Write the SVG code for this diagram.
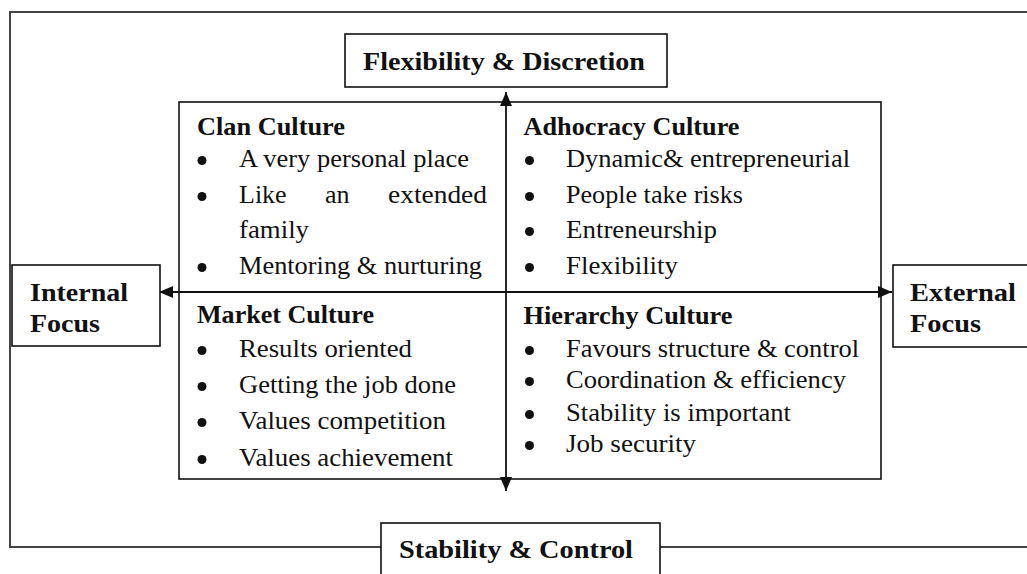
<svg xmlns="http://www.w3.org/2000/svg" width="1027" height="574" viewBox="0 0 1027 574">
  <style>
    text { font-family: "Liberation Serif", "Times New Roman", serif; fill: #111; }
    .h { font-size: 26px; font-weight: bold; }
    .t { font-size: 26px; }
    .frame { fill: none; stroke: #444; stroke-width: 2; }
    .box { fill: #fff; stroke: #111; stroke-width: 1.6; }
    .axis { fill: none; stroke: #111; stroke-width: 1.8; }
    .dot { fill: #111; }
  </style>
  <defs>
    <marker id="arrow" viewBox="0 0 14 12" refX="14" refY="6" markerWidth="14" markerHeight="12" markerUnits="userSpaceOnUse" orient="auto">
      <path d="M0,0 L14,6 L0,12 Z" fill="#111"/>
    </marker>
  </defs>

  <rect width="1027" height="574" fill="#fff"/>

  <!-- outer frame, running off the right edge -->
  <rect class="frame" x="10" y="12" width="1040" height="535"/>

  <!-- quadrant panel -->
  <g id="quadrants">
    <rect class="box" x="179" y="102" width="702" height="377"/>
  </g>

  <!-- axes -->
  <g id="connectors">
    <line class="axis" x1="506" y1="292" x2="506" y2="92" marker-end="url(#arrow)"/>
    <line class="axis" x1="506" y1="292" x2="506" y2="491" marker-end="url(#arrow)"/>
    <line class="axis" x1="506" y1="292" x2="159" y2="292" marker-end="url(#arrow)"/>
    <line class="axis" x1="506" y1="292" x2="892" y2="292" marker-end="url(#arrow)"/>
  </g>

  <g id="flexibility">
    <rect class="box" x="345" y="34" width="322" height="53"/>
    <text class="h" x="363" y="70" textLength="282" lengthAdjust="spacingAndGlyphs">Flexibility &amp; Discretion</text>
  </g>

  <g id="stability">
    <rect class="box" x="381" y="523" width="279" height="70"/>
    <text class="h" x="399" y="558" textLength="234" lengthAdjust="spacingAndGlyphs">Stability &amp; Control</text>
  </g>

  <g id="internal">
    <rect class="box" x="12" y="265" width="148" height="81"/>
    <text class="h" x="30" y="301" textLength="98" lengthAdjust="spacingAndGlyphs">Internal</text>
    <text class="h" x="30" y="332" textLength="70" lengthAdjust="spacingAndGlyphs">Focus</text>
  </g>

  <g id="external">
    <rect class="box" x="893" y="265" width="150" height="82"/>
    <text class="h" x="910" y="301" textLength="106" lengthAdjust="spacingAndGlyphs">External</text>
    <text class="h" x="910" y="332" textLength="71" lengthAdjust="spacingAndGlyphs">Focus</text>
  </g>

  <g id="clan">
    <text class="h" x="197" y="135" textLength="148" lengthAdjust="spacingAndGlyphs">Clan Culture</text>
    <circle class="dot" cx="202" cy="160.5" r="4.5"/>
    <text class="t" x="239" y="167" textLength="230" lengthAdjust="spacingAndGlyphs">A very personal place</text>
    <circle class="dot" cx="202" cy="196.5" r="4.5"/>
    <text class="t" y="203"><tspan x="239">Like</tspan><tspan x="325">an</tspan><tspan x="388" textLength="99" lengthAdjust="spacingAndGlyphs">extended</tspan></text>
    <text class="t" x="239" y="238" textLength="70" lengthAdjust="spacingAndGlyphs">family</text>
    <circle class="dot" cx="202" cy="267.5" r="4.5"/>
    <text class="t" x="239" y="274" textLength="243" lengthAdjust="spacingAndGlyphs">Mentoring &amp; nurturing</text>
  </g>

  <g id="adhocracy">
    <text class="h" x="523.5" y="135" textLength="216" lengthAdjust="spacingAndGlyphs">Adhocracy Culture</text>
    <circle class="dot" cx="529.5" cy="160.5" r="4.5"/>
    <text class="t" x="566" y="167" textLength="284" lengthAdjust="spacingAndGlyphs">Dynamic&amp; entrepreneurial</text>
    <circle class="dot" cx="529.5" cy="196.5" r="4.5"/>
    <text class="t" x="566" y="203" textLength="177" lengthAdjust="spacingAndGlyphs">People take risks</text>
    <circle class="dot" cx="529.5" cy="231.5" r="4.5"/>
    <text class="t" x="566" y="238" textLength="151" lengthAdjust="spacingAndGlyphs">Entreneurship</text>
    <circle class="dot" cx="529.5" cy="267.5" r="4.5"/>
    <text class="t" x="566" y="274" textLength="112" lengthAdjust="spacingAndGlyphs">Flexibility</text>
  </g>

  <g id="market">
    <text class="h" x="197" y="323" textLength="177" lengthAdjust="spacingAndGlyphs">Market Culture</text>
    <circle class="dot" cx="202" cy="350.5" r="4.5"/>
    <text class="t" x="239" y="357" textLength="173" lengthAdjust="spacingAndGlyphs">Results oriented</text>
    <circle class="dot" cx="202" cy="386.5" r="4.5"/>
    <text class="t" x="239" y="393" textLength="217" lengthAdjust="spacingAndGlyphs">Getting the job done</text>
    <circle class="dot" cx="202" cy="422.5" r="4.5"/>
    <text class="t" x="239" y="429" textLength="207" lengthAdjust="spacingAndGlyphs">Values competition</text>
    <circle class="dot" cx="202" cy="459.5" r="4.5"/>
    <text class="t" x="239" y="466" textLength="214" lengthAdjust="spacingAndGlyphs">Values achievement</text>
  </g>

  <g id="hierarchy">
    <text class="h" x="523.5" y="324" textLength="209" lengthAdjust="spacingAndGlyphs">Hierarchy Culture</text>
    <circle class="dot" cx="529.5" cy="350.5" r="4.5"/>
    <text class="t" x="566" y="357" textLength="293" lengthAdjust="spacingAndGlyphs">Favours structure &amp; control</text>
    <circle class="dot" cx="529.5" cy="381.5" r="4.5"/>
    <text class="t" x="566" y="388" textLength="280" lengthAdjust="spacingAndGlyphs">Coordination &amp; efficiency</text>
    <circle class="dot" cx="529.5" cy="414.5" r="4.5"/>
    <text class="t" x="566" y="421" textLength="225" lengthAdjust="spacingAndGlyphs">Stability is important</text>
    <circle class="dot" cx="529.5" cy="445.5" r="4.5"/>
    <text class="t" x="566" y="452" textLength="130" lengthAdjust="spacingAndGlyphs">Job security</text>
  </g>
</svg>
